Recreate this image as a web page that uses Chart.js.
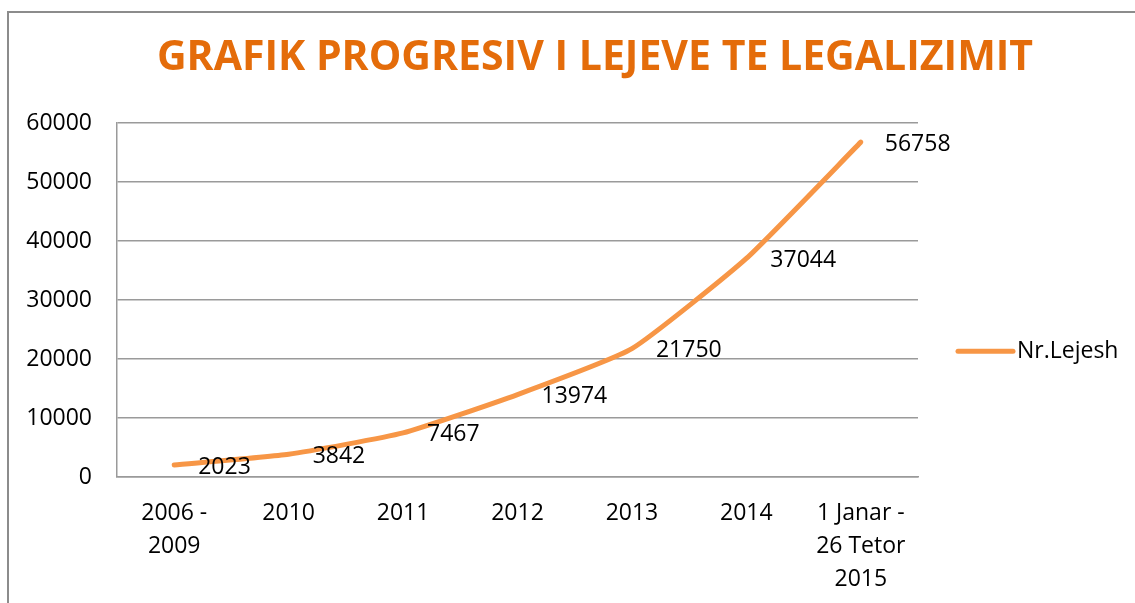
<!DOCTYPE html>
<html>
<head>
<meta charset="utf-8">
<script src="https://cdn.jsdelivr.net/npm/chart.js@4/dist/chart.umd.min.js"></script>
<style>
  html, body { margin: 0; padding: 0; background: #fff; }
  .frame {
    position: absolute; left: 7px; top: 11px; width: 1300px; height: 800px;
    border-left: 2px solid #8c8c8c; border-top: 2px solid #8c8c8c;
  }
  canvas { position: absolute; left: 0; top: 0; }
</style>
</head>
<body>
<div class="frame"></div>
<canvas id="chart" width="1135" height="603"></canvas>
<script>
const categories = [["2006 -", "2009"], "2010", "2011", "2012", "2013", "2014", ["1 Janar -", "26 Tetor", "2015"]];
const permits = [2023, 3842, 7467, 13974, 21750, 37044, 56758];
const seriesName = "Nr.Lejesh";
const chartTitle = "GRAFIK PROGRESIV I LEJEVE TE LEGALIZIMIT";

const FONT = "'Open Sans', sans-serif";
const LINE_COLOR = "#f79646";

// title, data labels and legend drawn by hand to match the Excel layout
const decor = {
  id: "decor",
  afterDatasetsDraw(chart) {
    const ctx = chart.ctx;
    const area = chart.chartArea;
    ctx.save();

    ctx.fillStyle = "#e46c0a";
    ctx.font = "bold 41px " + FONT;
    ctx.textAlign = "center";
    ctx.textBaseline = "middle";
    ctx.fillText(chartTitle, 595, 58);

    ctx.fillStyle = "#000";
    ctx.font = "23px " + FONT;
    ctx.textAlign = "left";
    chart.getDatasetMeta(0).data.forEach((pt, i) => {
      ctx.fillText(String(permits[i]), pt.x + 24, pt.y + 2);
    });

    const ly = area.top + (area.bottom - area.top) * 0.645;
    ctx.strokeStyle = LINE_COLOR;
    ctx.lineWidth = 5;
    ctx.lineCap = "round";
    ctx.beginPath();
    ctx.moveTo(area.right + 40, ly);
    ctx.lineTo(area.right + 95, ly);
    ctx.stroke();
    ctx.fillText(seriesName, area.right + 99, ly);
    ctx.restore();
  },
};

new Chart(document.getElementById("chart"), {
  type: "line",
  data: {
    labels: categories,
    datasets: [
      {
        label: seriesName,
        data: permits,
        borderColor: LINE_COLOR,
        borderWidth: 5,
        borderCapStyle: "round",
        tension: 0.15,
        pointRadius: 0,
        fill: false,
      },
    ],
  },
  options: {
    responsive: false,
    animation: false,
    layout: { padding: { left: 0, right: 217, top: 123, bottom: 0 } },
    plugins: {
      legend: { display: false },
      title: { display: false },
      tooltip: { enabled: false },
    },
    scales: {
      x: {
        offset: true,
        grid: { display: false, drawTicks: false },
        border: { display: true, color: "#9a9a9a", width: 1.5 },
        ticks: {
          color: "#000",
          font: { family: FONT, size: 23, lineHeight: 1.43 },
          padding: 20,
          maxRotation: 0,
          autoSkip: false,
        },
        afterFit(scale) {
          scale.height = 126;
        },
      },
      y: {
        min: 0,
        max: 60000,
        grid: { color: "#9a9a9a", lineWidth: 1.5, drawTicks: false },
        border: { display: true, color: "#9a9a9a", width: 1.5 },
        ticks: {
          stepSize: 10000,
          color: "#000",
          font: { family: FONT, size: 23 },
          padding: 25,
          callback: (v) => String(v),
        },
        afterFit(scale) {
          scale.width = 117;
        },
      },
    },
  },
  plugins: [decor],
});
</script>
</body>
</html>
